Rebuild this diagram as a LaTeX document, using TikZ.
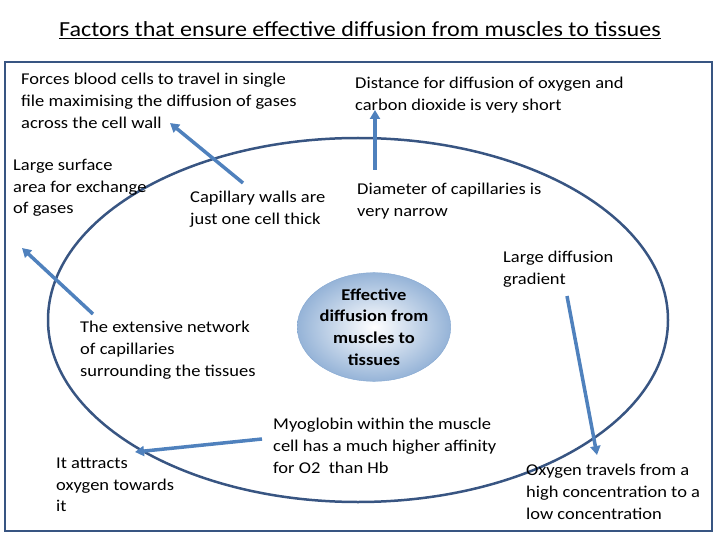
\documentclass[tikz,border=0pt]{standalone}
\usepackage{fontspec}
\setmainfont[FakeStretch=1.12]{Carlito}
\usetikzlibrary{arrows.meta,shadings,shapes.geometric}
\definecolor{ar}{RGB}{79,129,189}
\definecolor{ln}{RGB}{56,85,130}
\begin{document}
\begin{tikzpicture}[x=1pt,y=-1pt,
  txt/.style={anchor=west,align=left,inner sep=0pt,font=\fontsize{16.5}{21.7}\selectfont},
  arr/.style={draw=ar,line width=3.5pt,-{Triangle[length=9pt,width=10pt]}}]
\useasboundingbox (0,0) rectangle (720,540);
\draw[ln,line width=2.5pt] (5,62) rectangle (712,531);
\node (title) at (360,30) {\fontsize{21.5}{24}\selectfont\underline{Factors that ensure effective diffusion from muscles to tissues}};
\draw[ln,line width=2.5pt] (358,320) ellipse [x radius=310,y radius=182];
\node[ellipse,minimum width=128pt,minimum height=108pt,inner sep=0pt,draw=ar!70,inner color=white,outer color=ar!60,align=center,font=\fontsize{16.5}{21.7}\selectfont\bfseries] (c) at (374,327) {Effective\\diffusion from\\muscles to\\tissues};
\node[txt] (t1) at (21,101) {Forces blood cells to travel in single\\file maximising the diffusion of gases\\across the cell wall};
\node[txt] (t2) at (355,95) {Distance for diffusion of oxygen and\\carbon dioxide is very short};
\node[txt] (t3) at (13,188) {Large surface\\area for exchange\\of gases};
\node[txt] (t4) at (190,209) {Capillary walls are\\just one cell thick};
\node[txt] (t5) at (357,201) {Diameter of capillaries is\\ very narrow};
\node[txt] (t6) at (503,269) {Large diffusion\\gradient};
\node[txt] (t7) at (80,350) {The extensive network\\of capillaries\\surrounding the tissues};
\node[txt] (t8) at (273,446) {Myoglobin within the muscle\\cell has a much higher affinity\\for O2~ than Hb};
\node[txt] (t9) at (56,485) {It attracts\\oxygen towards\\it};
\node[txt] (t10) at (526,492) {Oxygen travels from a\\high concentration to a\\low concentration};
\coordinate (a1s) at (243,183); \coordinate (a1e) at (170,123);
\coordinate (a2s) at (375,170); \coordinate (a2e) at (375,110);
\coordinate (a3s) at (93,314); \coordinate (a3e) at (22,248);
\coordinate (a4s) at (262,439); \coordinate (a4e) at (135,452);
\coordinate (a5s) at (567,296); \coordinate (a5e) at (597,455);
\draw[arr] (a1s) -- (a1e);
\draw[arr] (a2s) -- (a2e);
\draw[arr] (a3s) -- (a3e);
\draw[arr] (a4s) -- (a4e);
\draw[arr] (a5s) -- (a5e);
\end{tikzpicture}
\end{document}
